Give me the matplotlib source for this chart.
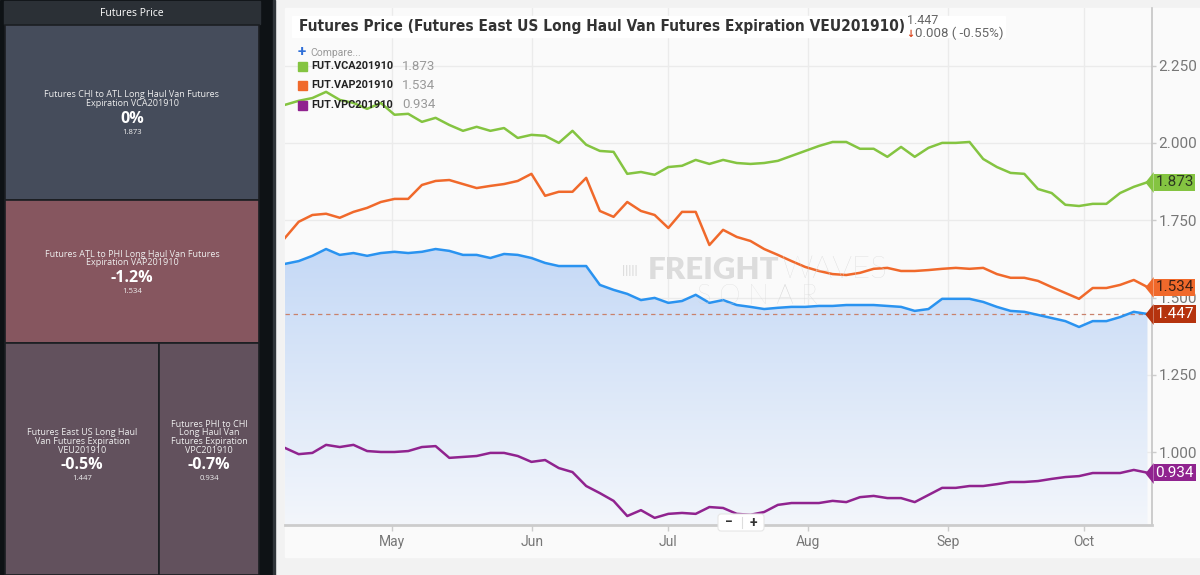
import numpy as np
import pandas as pd
import matplotlib
matplotlib.use('Agg')
import matplotlib.pyplot as plt
import matplotlib.dates as mdates
import matplotlib.transforms as mtransforms
from matplotlib.patches import Rectangle, FancyBboxPatch
from matplotlib.colors import LinearSegmentedColormap
from matplotlib import font_manager as fm
from matplotlib.path import Path

W, H = 1200, 575

# ---- data ----
dates = pd.date_range('2019-04-07 08:00', '2019-10-15', periods=64)

vca = [2.123, 2.136, 2.145, 2.165, 2.139, 2.129, 2.110, 2.129, 2.091, 2.094,
       2.068, 2.081, 2.058, 2.039, 2.052, 2.039, 2.048, 2.016, 2.026, 2.023,
       2.000, 2.039, 1.994, 1.974, 1.971, 1.900, 1.906, 1.897, 1.922, 1.926,
       1.945, 1.932, 1.945, 1.935, 1.932, 1.935, 1.942, 1.958, 1.974, 1.990,
       2.003, 2.003, 1.981, 1.981, 1.955, 1.987, 1.955, 1.984, 2.000, 2.000,
       2.003, 1.948, 1.922, 1.903, 1.900, 1.851, 1.838, 1.800, 1.796, 1.803,
       1.803, 1.838, 1.858, 1.873]
vap = [1.693, 1.745, 1.767, 1.771, 1.758, 1.777, 1.790, 1.809, 1.819, 1.819,
       1.864, 1.877, 1.880, 1.867, 1.854, 1.861, 1.867, 1.877, 1.900, 1.829,
       1.842, 1.842, 1.887, 1.780, 1.761, 1.809, 1.780, 1.767, 1.725, 1.777,
       1.777, 1.670, 1.719, 1.696, 1.683, 1.657, 1.638, 1.618, 1.599, 1.586,
       1.576, 1.573, 1.580, 1.593, 1.596, 1.586, 1.586, 1.589, 1.593, 1.596,
       1.593, 1.596, 1.576, 1.564, 1.564, 1.554, 1.534, 1.515, 1.496, 1.531,
       1.531, 1.541, 1.557, 1.534]
veu = [1.609, 1.618, 1.635, 1.657, 1.638, 1.644, 1.635, 1.644, 1.648, 1.644,
       1.648, 1.657, 1.651, 1.638, 1.638, 1.628, 1.641, 1.638, 1.628, 1.612,
       1.602, 1.602, 1.602, 1.541, 1.525, 1.512, 1.492, 1.499, 1.483, 1.489,
       1.509, 1.483, 1.492, 1.476, 1.470, 1.463, 1.467, 1.470, 1.470, 1.473,
       1.473, 1.476, 1.476, 1.476, 1.473, 1.470, 1.457, 1.463, 1.496, 1.496,
       1.496, 1.486, 1.470, 1.457, 1.454, 1.444, 1.434, 1.424, 1.405, 1.424,
       1.424, 1.437, 1.454, 1.447]
vpc = [1.014, 0.994, 0.998, 1.024, 1.017, 1.024, 1.004, 1.001, 1.001, 1.004,
       1.017, 1.020, 0.982, 0.985, 0.988, 0.998, 0.998, 0.988, 0.969, 0.975,
       0.949, 0.936, 0.891, 0.868, 0.843, 0.794, 0.813, 0.788, 0.801, 0.804,
       0.801, 0.823, 0.820, 0.801, 0.798, 0.807, 0.830, 0.836, 0.836, 0.836,
       0.843, 0.839, 0.855, 0.859, 0.852, 0.852, 0.839, 0.862, 0.885, 0.885,
       0.891, 0.891, 0.897, 0.904, 0.904, 0.907, 0.914, 0.920, 0.923, 0.933,
       0.933, 0.933, 0.943, 0.934]

legend_names = ['FUT.VCA201910', 'FUT.VAP201910', 'FUT.VPC201910']
legend_values = ['1.873', '1.534', '0.934']

tm_names = ['Futures CHI to ATL Long Haul Van Futures\nExpiration VCA201910',
            'Futures ATL to PHI Long Haul Van Futures\nExpiration VAP201910',
            'Futures East US Long Haul\nVan Futures Expiration\nVEU201910',
            'Futures PHI to CHI\nLong Haul Van\nFutures Expiration\nVPC201910']
tm_change = ['0%', '-1.2%', '-0.5%', '-0.7%']
tm_last = ['1.873', '1.534', '1.447', '0.934']
tm_weight = [44.2, 36.1, 35.5, 23.0]
tm_color = ['#454c5b', '#86565f', '#62515d', '#62515d']

green, orange, blue, purple = '#84c441', '#f0692b', '#2a93f0', '#90238f'
grey_txt = '#777777'
tm_font = ['Open Sans', 'DejaVu Sans']

plt.rcParams['font.family'] = ['Roboto', 'DejaVu Sans']

# condensed bold font for the title, if one is installed
cond = [f for f in fm.fontManager.ttflist
        if (f.stretch in ('condensed', 'semi-condensed')
            or 'Condensed' in f.name or 'Narrow' in f.name
            or 'Condensed' in f.fname or 'Narrow' in f.fname)
        and f.weight in (700, 'bold') and f.style == 'normal']
if cond:
    title_fp = fm.FontProperties(fname=cond[0].fname)
else:
    title_fp = fm.FontProperties(family='Roboto', weight='bold')

fig = plt.figure(figsize=(W / 100, H / 100), dpi=100)

# ---- background / left panel (pixel coords) ----
bg = fig.add_axes([0, 0, 1, 1], zorder=0)
bg.set_xlim(0, W)
bg.set_ylim(H, 0)
bg.axis('off')
bg.add_patch(Rectangle((0, 0), W, H, color='#f2f2f2'))
bg.add_patch(Rectangle((285, 8), W - 285, 549, color='#fafafa'))
bg.add_patch(Rectangle((0, 0), 273, H, color='#0e1215'))
bg.add_patch(Rectangle((273, 0), 2, H, color='#30353a'))

bg.add_patch(Rectangle((4, 1), 256, 23, color='#2b3036'))
bg.text(132, 13.5, 'Futures Price', color='white', fontsize=7.5,
        ha='center', va='center', family=tm_font)

# slice-and-dice treemap: two full-width rows, then a split row
x0, x1, y0, y1 = 5, 259, 25, 575
tot = sum(tm_weight)
hh = y1 - y0
boxes = []
cy = y0
for w in tm_weight[:2]:
    h = w / tot * hh
    boxes.append((x0, cy, x1 - x0, h))
    cy += h
h = sum(tm_weight[2:]) / tot * hh
cx = x0
for w in tm_weight[2:]:
    ww = w / sum(tm_weight[2:]) * (x1 - x0)
    boxes.append((cx, cy, ww, h))
    cx += ww

for (bx, by, bw, bh), name, chg, last, col in zip(boxes, tm_names, tm_change, tm_last, tm_color):
    bg.add_patch(Rectangle((bx, by), bw, bh, fc=col, ec='#1b1e22', lw=1.2))
    mx = bx + bw / 2
    my = by + bh / 2
    py = my + 6
    lines = name.split('\n')
    n = len(lines)
    for i, ln in enumerate(lines):
        bg.text(mx, py - 15 - (n - 1 - i) * 8.6, ln, color='#eeeeee', fontsize=6.5,
                ha='center', va='center', family=tm_font)
    bg.text(mx, py, chg, color='white', fontsize=11.5, weight='bold',
            ha='center', va='center', family=tm_font)
    bg.text(mx, py + 13.5, last, color='#eeeeee', fontsize=5.6,
            ha='center', va='center', family=tm_font)

# ---- main chart ----
ax = fig.add_axes([285 / W, (H - 525) / H, (1152 - 285) / W, (525 - 8) / H], zorder=1)
ax.set_facecolor('none')
ymin, ymax = 0.765, 2.436
xs = mdates.date2num(dates)

poly = ax.fill_between(xs, veu, ymin, color='none', lw=0)
cmap = LinearSegmentedColormap.from_list('fill', ['#f3f6fb', '#c5d9f6'])
grad = np.linspace(0, 1, 256).reshape(-1, 1)
im = ax.imshow(grad, extent=[xs[0], xs[-1], ymin, max(veu)], origin='lower',
               aspect='auto', cmap=cmap, zorder=1, interpolation='bicubic')
im.set_clip_path(poly.get_paths()[0], transform=ax.transData)

ax.axhline(veu[-1], color='#c9826c', lw=0.9, ls=(0, (3.5, 3)), zorder=2)
ax.plot(xs, veu, color=blue, lw=1.8, zorder=3, solid_joinstyle='round')
ax.plot(xs, vca, color=green, lw=1.8, zorder=3, solid_joinstyle='round')
ax.plot(xs, vap, color=orange, lw=1.8, zorder=3, solid_joinstyle='round')
ax.plot(xs, vpc, color=purple, lw=1.8, zorder=3, solid_joinstyle='round')

ax.set_xlim(mdates.date2num(pd.Timestamp('2019-04-07 08:00')),
            mdates.date2num(pd.Timestamp('2019-10-16')))
ax.set_ylim(ymin, ymax)

ax.xaxis.set_major_locator(mdates.MonthLocator())
ax.xaxis.set_major_formatter(mdates.DateFormatter('%b'))
ax.set_yticks([1.0, 1.25, 1.5, 1.75, 2.0, 2.25])
ax.yaxis.set_major_formatter(matplotlib.ticker.FormatStrFormatter('%.3f'))
ax.yaxis.tick_right()
ax.grid(True, color='#ebebeb', lw=1, zorder=0)
ax.set_axisbelow(True)
for s in ('left', 'top'):
    ax.spines[s].set_visible(False)
ax.spines['bottom'].set_color('#cccccc')
ax.spines['bottom'].set_linewidth(2)
ax.spines['right'].set_color('#c4c4c4')
ax.spines['right'].set_linewidth(1.2)
ax.tick_params(axis='x', colors='#cccccc', length=4, width=1, labelcolor=grey_txt,
               labelsize=10, pad=3)
ax.tick_params(axis='y', colors='#cccccc', length=3, width=1, labelcolor=grey_txt,
               labelsize=11, pad=1.5)

# price tags on the right axis
tip = Path([(-0.4, 0), (0.4, -1), (0.4, 1), (-0.4, 0)])
tip_tr = mtransforms.offset_copy(ax.get_yaxis_transform(), fig=fig, x=-3, y=0, units='dots')
for v, fc, tc in [(vca[-1], green, '#2e3a22'), (vap[-1], orange, '#3a2015'),
                  (veu[-1], '#b5330e', 'white'), (vpc[-1], purple, 'white')]:
    ax.plot([1.0], [v], marker=tip, ms=15, color=fc, mec='none',
            transform=tip_tr, clip_on=False, zorder=6)
    ax.annotate(f'{v:.3f}', xy=(1, v), xycoords=ax.get_yaxis_transform(),
                xytext=(2.5, 0), textcoords='offset points', ha='left', va='center',
                fontsize=11, color=tc, zorder=7, annotation_clip=False,
                bbox=dict(boxstyle='square,pad=0.1', fc=fc, ec='none'))

# ---- overlay texts (pixel coords) ----
fg = fig.add_axes([0, 0, 1, 1], zorder=2)
fg.set_facecolor('none')
fg.set_xlim(0, W)
fg.set_ylim(H, 0)
fg.axis('off')

fg.add_patch(Rectangle((292, 16), 713, 21, color='white', zorder=1))
title = fg.text(299, 26.5, 'Futures Price (Futures East US Long Haul Van Futures Expiration VEU201910)',
                fontproperties=title_fp, fontsize=14.5, color='#333333', ha='left', va='center', zorder=2)
fg.text(907, 20, f'{veu[-1]:.3f}', fontsize=9, color='#666666', ha='left', va='center', zorder=2)
fg.text(906, 33.5, '↓', fontsize=7, color='#d9441c', weight='bold', ha='left', va='center', zorder=2,
        family=['DejaVu Sans'])
fg.text(915, 33.5, '0.008 ( -0.55%)', fontsize=9.5, color='#666666', ha='left', va='center', zorder=2)

fg.text(298, 52, '+', fontsize=11, color='#2f6fd8', ha='left', va='center', weight='bold')
fg.text(310, 52.5, 'Compare...', fontsize=7.5, color='#9a9a9a', ha='left', va='center')
for i, (nm, val, col) in enumerate(zip(legend_names, legend_values, [green, orange, purple])):
    yy = 66 + i * 19.5
    fg.add_patch(Rectangle((298, yy - 4.5), 9, 9, color=col))
    fg.text(311, yy, nm, fontsize=7.8, weight='bold', color='#222222', ha='left', va='center')
    fg.text(402, yy, val, fontsize=9.5, color='#9a9a9a', ha='left', va='center')

# watermark
fg.text(630, 270, '|||||', fontsize=9, color='#dddddd', ha='center', va='center', weight='bold')
wm1 = fg.text(648, 270, 'FREIGHT', fontsize=15, color='#dcdcdc', ha='left', va='center',
              weight='heavy', family=['Lato', 'DejaVu Sans'])
wm2 = fg.text(781, 270, 'WAVES', fontsize=15, color='#d6d6d6', ha='left', va='center',
              weight='light', family=['Lato', 'DejaVu Sans'])
wm3 = fg.text(697, 297, 'S O N A R', fontsize=15, color='#d6d6d6', ha='left', va='center',
              weight='light', family=['Lato', 'DejaVu Sans'])

# zoom buttons
fg.add_patch(FancyBboxPatch((718, 514), 46, 17, boxstyle='round,pad=0,rounding_size=3',
                            fc='white', ec='#e6e6e6', lw=0.8))
fg.text(729, 522.5, '−', fontsize=10, color='#333333', ha='center', va='center', weight='bold')
fg.text(753, 522.5, '+', fontsize=10, color='#333333', ha='center', va='center', weight='bold')
fg.plot([742, 742], [517, 528], color='#dddddd', lw=0.8)

# fit widths of a few texts to what the picture shows
fig.canvas.draw()
r = fig.canvas.get_renderer()
for t, wpx in [(title, 600), (wm1, 132), (wm2, 106), (wm3, 121)]:
    bb = t.get_window_extent(r)
    t.set_fontsize(t.get_fontsize() * wpx / bb.width)

fig.savefig('out.png', dpi=100)
